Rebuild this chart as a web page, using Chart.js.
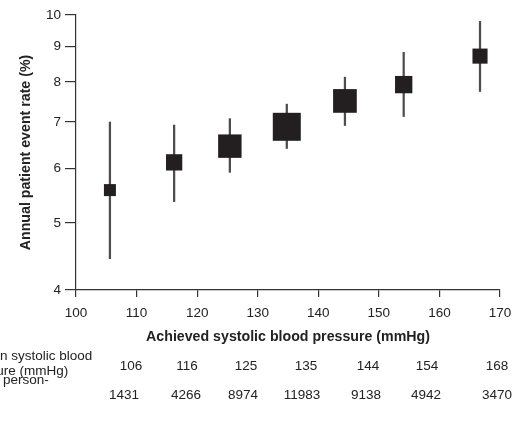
<!DOCTYPE html>
<html>
<head>
<meta charset="utf-8">
<script src="https://cdn.jsdelivr.net/npm/chart.js@4/dist/chart.umd.min.js"></script>
<style>
    body { margin: 0; background: #fff; }
    #wrap { position: relative; width: 519px; height: 432px; overflow: hidden; font-family: 'Liberation Sans', Arial, sans-serif; color: #222; }
    #wrap canvas { position: absolute; left: 0; top: 0; }
    .cell { position: absolute; width: 60px; text-align: center; font-size: 13.5px; line-height: 14px; white-space: nowrap; }
    .rowlabel { position: absolute; left: -36.8px; font-size: 13.5px; line-height: 14.5px; white-space: nowrap; text-align: left; }
</style>
</head>
<body>
<div id="wrap">
    <canvas id="chart" width="519" height="432"></canvas>
</div>
<script>
// plotted position of each group
const plotSbp = [105.6, 116.2, 125.4, 134.8, 144.4, 154.1, 166.7];
const eventRate = [5.58, 6.12, 6.46, 6.89, 7.51, 7.93, 8.72];
const ciLow = [4.44, 5.37, 5.92, 6.41, 6.92, 7.13, 7.75];
const ciHigh = [7.0, 6.93, 7.08, 7.43, 8.13, 8.83, 9.79];
// table under the chart
const meanSbp = [106, 116, 125, 135, 144, 154, 168];
const personYears = [1431, 4266, 8974, 11983, 9138, 4942, 3470];
const yTicks = [4, 5, 6, 7, 8, 9, 10];
const xTicks = [100, 110, 120, 130, 140, 150, 160, 170];

document.addEventListener('DOMContentLoaded', function () {
    const font = "'Liberation Sans', Arial, sans-serif";
    const axisColor = '#333';

    // square side follows person-years (12px .. 28px)
    const minPy = Math.min(...personYears);
    const maxPy = Math.max(...personYears);
    const radii = personYears.map(py => (12 + 16 * (py - minPy) / (maxPy - minPy)) / (2 * Math.SQRT1_2));

    new Chart(document.getElementById('chart'), {
        type: 'scatter',
        data: {
            datasets: [
                {
                    type: 'scatter',
                    data: plotSbp.map((x, i) => ({ x: x, y: eventRate[i] })),
                    pointStyle: 'rect',
                    pointRadius: radii,
                    pointHoverRadius: radii,
                    backgroundColor: '#231f20',
                    borderWidth: 0
                },
                {
                    type: 'bar',
                    data: plotSbp.map((x, i) => ({ x: x, y: [ciLow[i], ciHigh[i]] })),
                    barThickness: 1.6,
                    backgroundColor: '#4d4d4d',
                    borderWidth: 0
                }
            ]
        },
        options: {
            responsive: false,
            animation: false,
            // big squares would otherwise push the plot box inwards
            layout: { autoPadding: false, padding: { left: 0, right: 19, top: 15, bottom: 86 } },
            scales: {
                x: {
                    type: 'linear',
                    min: 100,
                    max: 170,
                    offset: false,
                    afterFit: function (scale) {
                        scale.height = 56;
                        scale.paddingLeft = scale.paddingRight = 0;
                    },
                    afterBuildTicks: function (scale) { scale.ticks = xTicks.map(v => ({ value: v })); },
                    grid: { display: true, drawOnChartArea: false, drawTicks: true, tickLength: 7, color: axisColor, lineWidth: 1.2, offset: false },
                    border: { display: true, color: axisColor, width: 1.2 },
                    ticks: { color: '#222', padding: 8, maxRotation: 0, font: { family: font, size: 13.5 } },
                    title: {
                        display: true,
                        text: 'Achieved systolic blood pressure (mmHg)',
                        color: '#222',
                        padding: 0,
                        font: { family: font, size: 14.2, weight: 'bold' }
                    }
                },
                y: {
                    type: 'logarithmic',
                    min: 4,
                    max: 10,
                    afterFit: function (scale) {
                        scale.width = 76;
                        scale.paddingTop = scale.paddingBottom = 0;
                    },
                    afterBuildTicks: function (scale) { scale.ticks = yTicks.map(v => ({ value: v })); },
                    grid: { display: true, drawOnChartArea: false, drawTicks: true, tickLength: 11, color: axisColor, lineWidth: 1.2 },
                    border: { display: true, color: axisColor, width: 1.2 },
                    ticks: {
                        color: '#222',
                        padding: 4,
                        font: { family: font, size: 13.5 },
                        callback: function (value) { return String(value); }
                    },
                    title: {
                        display: true,
                        text: 'Annual patient event rate (%)',
                        color: '#222',
                        padding: { top: 18, bottom: 0 },
                        font: { family: font, size: 14.2, weight: 'bold' }
                    }
                }
            },
            plugins: {
                legend: { display: false },
                tooltip: { enabled: false }
            }
        }
    });

    // table rows under the axis
    const wrap = document.getElementById('wrap');
    const row1Centers = [131, 187, 246, 306, 368, 427, 497];
    const row2Centers = [124, 186, 243, 302, 366, 426, 497];

    function addLabel(html, top) {
        const d = document.createElement('div');
        d.className = 'rowlabel';
        d.style.top = top + 'px';
        d.innerHTML = html;
        wrap.appendChild(d);
    }
    function addRow(values, centers, top) {
        values.forEach((v, i) => {
            const d = document.createElement('div');
            d.className = 'cell';
            d.style.left = (centers[i] - 30) + 'px';
            d.style.top = top + 'px';
            d.textContent = String(v);
            wrap.appendChild(d);
        });
    }

    addLabel('Median systolic blood<br>pressure (mmHg)', 349);
    addRow(meanSbp, row1Centers, 358.5);
    addLabel('No. of person-<br>years', 373);
    addRow(personYears, row2Centers, 388);
});
</script>
</body>
</html>
